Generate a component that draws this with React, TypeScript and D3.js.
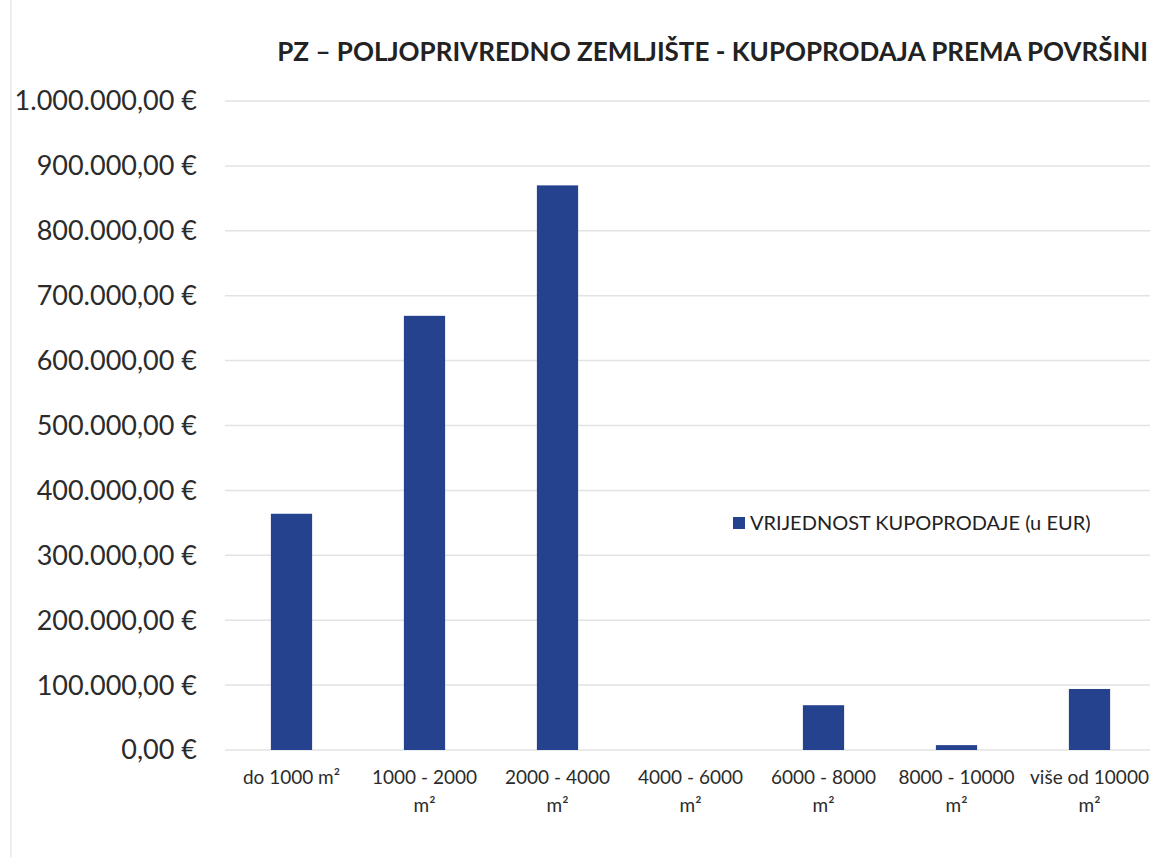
import React from "react";
import * as d3 from "d3";

const categories = ["do 1000 m²", "1000 - 2000 m²", "2000 - 4000 m²", "4000 - 6000 m²", "6000 - 8000 m²", "8000 - 10000 m²", "više od 10000 m²"];
const labelLines = [["do 1000 m²"], ["1000 - 2000", "m²"], ["2000 - 4000", "m²"], ["4000 - 6000", "m²"], ["6000 - 8000", "m²"], ["8000 - 10000", "m²"], ["više od 10000", "m²"]];
const values = [364000, 669000, 870000, 0, 69000, 7500, 94000];
const yTicks = [0, 100000, 200000, 300000, 400000, 500000, 600000, 700000, 800000, 900000, 1000000];
const title = "PZ – POLJOPRIVREDNO ZEMLJIŠTE - KUPOPRODAJA PREMA POVRŠINI";
const seriesName = "VRIJEDNOST KUPOPRODAJE (u EUR)";

const W = 1155, H = 857;
const FONT = "Lato, 'Open Sans', sans-serif";

function fmt(v: number) {
  const s = Math.round(v).toString().replace(/\B(?=(\d{3})+(?!\d))/g, ".");
  return s + ",00 €";
}

export default function App() {
  const x = d3.scaleBand<string>().domain(categories).range([225, 1156]).paddingInner(0.69).paddingOuter(0.345);
  const y = d3.scaleLinear().domain([0, 1000000]).range([750, 101]);
  return (
    <svg width={W} height={H} style={{ position: "absolute", left: 0, top: 0, background: "#fff" }}>
      <rect x={0} y={0} width={W} height={H} fill="#fff" />
      <line x1={11} y1={0} x2={11} y2={H} stroke="#eeeeee" strokeWidth={2} />
      <text x={1148} y={61} textAnchor="end" fontFamily={FONT} fontWeight={700} fontSize={26} fill="#222">{title}</text>
      {yTicks.map((t) => (
        <g key={t}>
          <line x1={225} x2={1150} y1={y(t)} y2={y(t)} stroke="#e3e3e3" strokeWidth={1.5} />
          <text x={197} y={y(t)} dy="0.35em" textAnchor="end" fontFamily={FONT} fontSize={27} fill="#2b2b2b">{fmt(t)}</text>
        </g>
      ))}
      {categories.map((c, i) => (
        <rect key={c} x={x(c)} width={x.bandwidth()} y={y(values[i])} height={y(0) - y(values[i])} fill="#25428f" />
      ))}
      {categories.map((c, i) => (
        <text key={c + "l"} x={(x(c) as number) + x.bandwidth() / 2} y={784} textAnchor="middle" fontFamily={FONT} fontSize={19} fill="#2b2b2b">
          {labelLines[i].map((l, j) => (
            <tspan key={j} x={(x(c) as number) + x.bandwidth() / 2} dy={j === 0 ? 0 : 28}>{l}</tspan>
          ))}
        </text>
      ))}
      <rect x={733} y={517} width={12} height={12} fill="#25428f" />
      <text x={750} y={523} dy="0.35em" fontFamily={FONT} fontSize={20} fill="#222">{seriesName}</text>
    </svg>
  );
}
